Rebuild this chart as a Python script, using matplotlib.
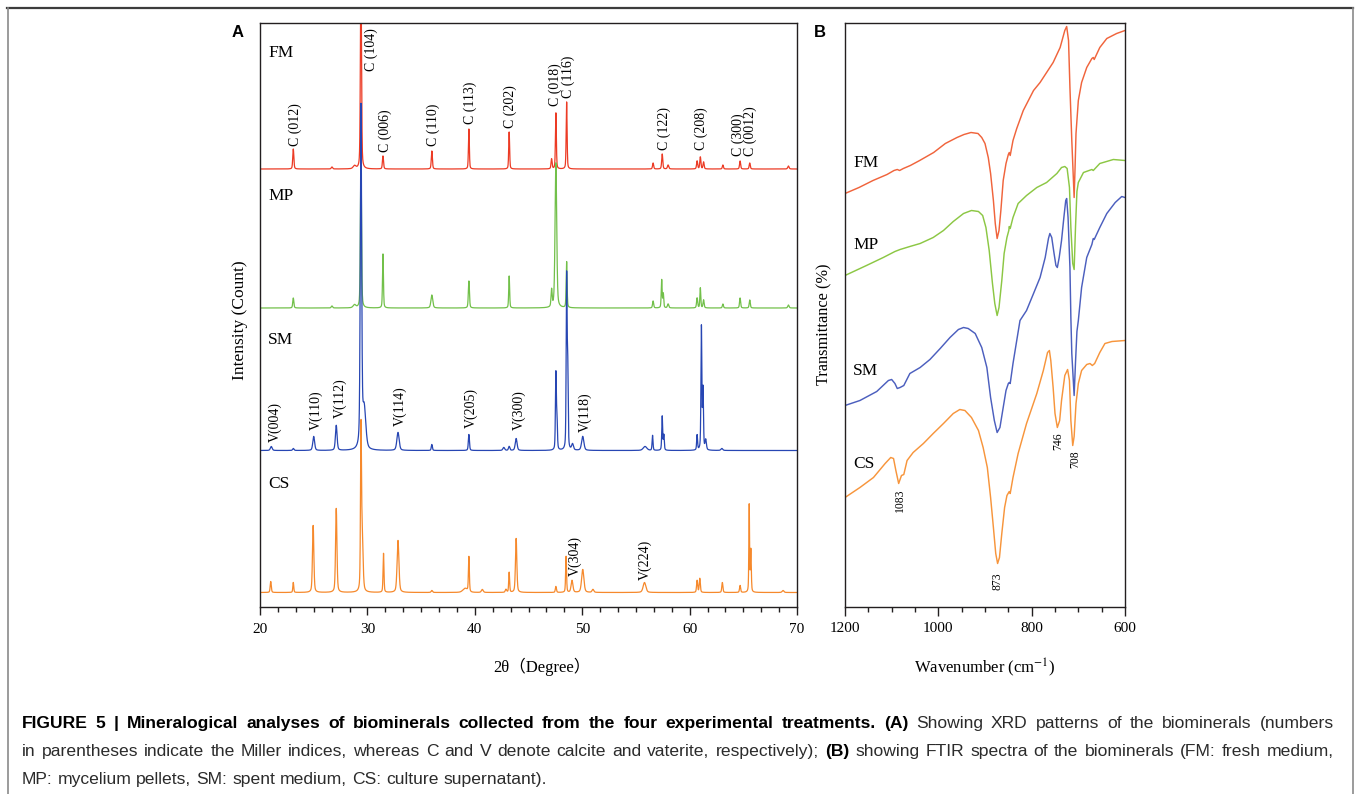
import matplotlib
import matplotlib.pyplot as plt
import numpy as np
from matplotlib.lines import Line2D
from matplotlib.ticker import AutoMinorLocator, MultipleLocator

matplotlib.use("Agg")

W, H = 1358, 794

# ---- XRD (panel A): peak tables (2theta, height, fwhm), baselines in counts
FM_BASE = 437.5
FM_PEAKS = [(23.1, 20, .12), (26.7, 2, .15), (28.8, 3, .3), (29.4, 200, .12),
            (31.45, 13, .12), (36.0, 18, .12), (39.45, 40, .1), (43.2, 37, .1),
            (47.15, 10, .12), (47.55, 56, .1), (48.55, 67, .1), (56.6, 6, .12),
            (57.45, 15, .12), (58.0, 4, .15), (60.7, 8, .12), (61.0, 12, .12),
            (61.3, 7, .12), (63.1, 4, .12), (64.7, 8, .12), (65.6, 6, .12),
            (69.2, 3, .15)]
MP_BASE = 298.5
MP_PEAKS = [(23.1, 10, .12), (26.7, 2, .15), (28.8, 3, .3), (29.4, 151, .12),
            (31.45, 54, .1), (36.0, 13, .2), (39.45, 27, .12), (43.2, 32, .1),
            (47.15, 17, .12), (47.55, 145, .18), (48.55, 46, .1), (56.6, 7, .12),
            (57.4, 28, .1), (57.55, 14, .1), (58.0, 4, .15), (60.7, 10, .12),
            (61.0, 20, .1), (61.3, 8, .12), (63.1, 4, .12), (64.7, 10, .12),
            (65.6, 8, .12), (69.2, 3, .15)]
SM_BASE = 156
SM_PEAKS = [(21.05, 4, .2), (23.1, 2, .15), (25.0, 14, .2), (27.1, 25, .18),
            (29.4, 340, .15), (29.7, 40, .35), (32.85, 18, .25), (36.0, 6, .12),
            (39.45, 16, .12), (42.7, 3, .2), (43.2, 4, .15), (43.85, 12, .2),
            (47.55, 76, .1), (47.65, 30, .1), (48.55, 170, .1), (48.65, 80, .1),
            (49.1, 6, .2), (50.05, 14, .25), (55.85, 4, .4), (56.55, 15, .1),
            (57.45, 34, .1), (57.6, 15, .1), (60.7, 15, .1), (61.1, 123, .1),
            (61.25, 60, .1), (61.5, 10, .15), (63.0, 2, .2)]
CS_BASE = 14
CS_PEAKS = [(21.0, 11, .12), (23.1, 10, .1), (24.95, 67, .15), (27.1, 84, .15),
            (29.4, 143, .1), (29.5, 60, .2), (31.5, 39, .1), (32.85, 52, .2),
            (36.0, 2, .15), (39.1, 4, .5), (39.45, 35, .1), (40.7, 3, .2),
            (42.9, 3, .15), (43.2, 20, .1), (43.85, 54, .15), (47.55, 6, .12),
            (48.5, 36, .1), (49.05, 12, .2), (50.05, 23, .25), (51.0, 3, .2),
            (55.8, 10, .3), (60.7, 12, .12), (60.95, 14, .12), (63.05, 10, .12),
            (64.7, 7, .12), (65.55, 87, .08), (65.7, 42, .1), (68.7, 2, .2)]

FM_LABELS = [("C (012)", 23.29, 461), ("C (104)", 30.4, 536), ("C (006)", 31.63, 455),
             ("C (110)", 36.16, 460), ("C (113)", 39.56, 482), ("C (202)", 43.3, 479),
             ("C (018)", 47.45, 500), ("C (116)", 48.7, 509), ("C (122)", 57.6, 457),
             ("C (208)", 61.1, 457), ("C (300)", 64.54, 451), ("C (0012)", 65.68, 451)]
SM_LABELS = [("V(004)", 21.39, 164), ("V(110)", 25.2, 176), ("V(112)", 27.43, 189),
             ("V(114)", 33.06, 181), ("V(205)", 39.66, 179), ("V(300)", 44.14, 176),
             ("V(118)", 50.27, 174)]
CS_LABELS = [("V(304)", 49.34, 31), ("V(224)", 55.84, 27)]

# ---- FTIR (panel B): wavenumber / transmittance (offset, arbitrary units)
FM_WN = [1200, 1170, 1140, 1110, 1095, 1088, 1083, 1075, 1060, 1052, 1040, 1010,
         985, 960, 945, 930, 915, 907, 900, 893, 888, 882, 878, 874, 870, 866,
         861, 855, 850, 848, 846, 840, 832, 818, 796, 782, 768, 754, 739, 729,
         725, 721, 718, 714, 709, 707, 705, 700, 693, 682, 671, 668, 666, 654,
         639, 618, 600]
FM_T = [413, 419, 426, 432, 436, 437, 436, 438, 441, 443, 446, 454,
        463, 469, 472, 474, 473, 469, 463, 449, 433, 406, 383, 368, 376, 396,
        426, 443, 452, 454, 451, 466, 478, 496, 516, 524, 534, 544, 559, 576,
        580, 566, 519, 466, 409, 439, 473, 506, 524, 539, 548, 549, 547, 559,
        568, 573, 576]
MP_WN = [1200, 1154, 1118, 1093, 1082, 1061, 1039, 1011, 989, 968, 946, 929, 914,
         905, 898, 891, 884, 879, 874, 870, 864, 859, 853, 849, 848, 846, 840,
         829, 811, 789, 768, 746, 736, 729, 724, 719, 716, 712, 709, 706, 703,
         700, 689, 671, 668, 654, 625, 600]
MP_T = [331, 341, 349, 355, 357, 360, 363, 369, 376, 385, 393, 396, 395,
        391, 379, 356, 323, 303, 291, 299, 326, 353, 369, 376, 380, 378, 389,
        403, 411, 419, 424, 433, 439, 440, 438, 419, 379, 343, 337, 380, 415,
        424, 434, 437, 436, 443, 447, 446]
SM_WN = [1200, 1168, 1132, 1107, 1100, 1093, 1088, 1082, 1074, 1061, 1039, 1018,
         996, 975, 957, 946, 936, 921, 907, 896, 888, 880, 874, 868, 861, 855,
         850, 848, 846, 840, 832, 825, 811, 796, 782, 771, 764, 761, 757, 752,
         748, 745, 741, 736, 731, 727, 725, 722, 718, 716, 714, 709, 706, 703,
         700, 693, 682, 671, 668, 666, 654, 639, 621, 607, 600]
SM_T = [201, 206, 215, 226, 227, 223, 218, 219, 221, 233, 239, 247,
        258, 269, 277, 279, 278, 273, 259, 239, 209, 186, 174, 179, 199, 216,
        223, 224, 223, 243, 266, 286, 296, 313, 329, 349, 368, 373, 369, 353,
        341, 339, 349, 366, 389, 406, 408, 389, 339, 289, 253, 211, 245, 275,
        286, 319, 349, 362, 368, 367, 379, 393, 404, 410, 409]
CS_WN = [1200, 1168, 1139, 1114, 1102, 1096, 1091, 1085, 1079, 1074, 1067, 1054,
         1032, 1011, 989, 968, 954, 943, 929, 914, 904, 895, 888, 882, 877, 873,
         869, 864, 858, 853, 848, 846, 840, 829, 811, 789, 775, 766, 762, 759,
         754, 750, 745, 740, 736, 729, 723, 719, 716, 712, 709, 705, 700, 693,
         682, 675, 670, 665, 654, 643, 628, 600]
CS_T = [109, 119, 129, 143, 149, 148, 136, 123, 131, 132, 146, 154,
        163, 173, 183, 193, 197, 196, 189, 176, 159, 139, 109, 79, 53, 43,
        49, 73, 99, 111, 115, 113, 129, 153, 183, 213, 236, 254, 256, 246,
        219, 193, 179, 186, 206, 231, 237, 226, 186, 161, 170, 203, 223, 236,
        242, 243, 241, 243, 254, 263, 265, 266]

FTIR_LABELS = [("1083", 1083, 118), ("873", 873, 34), ("746", 742, 174), ("708", 707, 156)]

SAMPLES = ["FM", "MP", "SM", "CS"]
XRD_COLORS = ["#EC3B25", "#72C04A", "#2746B3", "#F6892C"]
FTIR_COLORS = ["#F0643C", "#8CC744", "#4C5FBE", "#F7953C"]

CAPTION = [
    [("FIGURE 5 | Mineralogical analyses of biominerals collected from the four "
      "experimental treatments.", True), ("(A)", True),
     ("Showing XRD patterns of the biominerals (numbers", False)],
    [("in parentheses indicate the Miller indices, whereas C and V denote calcite "
      "and vaterite, respectively);", False), ("(B)", True),
     ("showing FTIR spectra of the biominerals (FM: fresh medium,", False)],
    [("MP: mycelium pellets, SM: spent medium, CS: culture supernatant).", False)],
]

plt.rcParams["font.family"] = ["Liberation Serif", "Noto Sans CJK SC"]
plt.rcParams["mathtext.fontset"] = "stix"
INK = "#231F20"


def fx(x):
    return x / W


def fy(y):
    return 1 - y / H


def pattern(x, base, peaks):
    y = np.full_like(x, float(base))
    for pos, h, w in peaks:
        g = np.exp(-4 * np.log(2) * ((x - pos) / w) ** 2)
        lor = 1 / (1 + ((x - pos) / (w / 2)) ** 2)
        y += h * (0.6 * g + 0.4 * lor)
    return y


def style_axes(ax, pad):
    for s in ax.spines.values():
        s.set_color(INK)
        s.set_linewidth(1.0)
    ax.set_yticks([])
    ax.tick_params(axis="x", which="major", direction="out", length=5.5, width=1.0,
                   color=INK, labelsize=11, pad=pad, labelcolor="black")
    ax.tick_params(axis="x", which="minor", direction="out", length=3.3, width=1.0,
                   color=INK)


fig = plt.figure(figsize=(W / 100, H / 100), dpi=100)

ax_a = fig.add_axes([fx(260), fy(606.5), (797 - 260) / W, (606.5 - 22.7) / H])
ax_b = fig.add_axes([fx(845), fy(606.5), (1125 - 845) / W, (606.5 - 22.7) / H])

# panel A
two_theta = np.linspace(20, 70, 6001)
bases = [FM_BASE, MP_BASE, SM_BASE, CS_BASE]
peak_sets = [FM_PEAKS, MP_PEAKS, SM_PEAKS, CS_PEAKS]
for base, peaks, color in zip(bases, peak_sets, XRD_COLORS):
    ax_a.plot(two_theta, pattern(two_theta, base, peaks), color=color, lw=0.9)

for labels in (FM_LABELS, SM_LABELS, CS_LABELS):
    for text, x, y in labels:
        ax_a.text(x, y, text, rotation=90, ha="center", va="bottom", fontsize=10)

ax_a.set_xlim(20, 70)
ax_a.set_ylim(0, 583.8)
ax_a.xaxis.set_major_locator(MultipleLocator(10))
ax_a.xaxis.set_minor_locator(AutoMinorLocator(6))
style_axes(ax_a, 6.5)

# panel B
wn_sets = [FM_WN, MP_WN, SM_WN, CS_WN]
t_sets = [FM_T, MP_T, SM_T, CS_T]
for i in [3, 2, 1, 0]:
    ax_b.plot(wn_sets[i], t_sets[i], color=FTIR_COLORS[i], lw=1.05)

for text, x, y in FTIR_LABELS:
    ax_b.text(x, y, text, rotation=90, ha="center", va="top", fontsize=8.4)

ax_b.set_xlim(1200, 600)
ax_b.set_ylim(0, 583.8)
ax_b.xaxis.set_major_locator(MultipleLocator(200))
ax_b.xaxis.set_minor_locator(AutoMinorLocator(4))
style_axes(ax_b, 4.5)
ax_b.tick_params(axis="x", which="major", length=6.5)
ax_b.tick_params(axis="x", which="minor", length=3.8)

# sample names
for name, y in zip(SAMPLES, [57, 200, 344, 488]):
    fig.text(fx(268), fy(y), name, fontsize=12.5, va="baseline", ha="left")
for name, y in zip(SAMPLES, [167, 249, 375, 468]):
    fig.text(fx(853), fy(y), name, fontsize=12.5, va="baseline", ha="left")

# axis titles and panel letters
fig.text(fx(240), fy(320), "Intensity (Count)", rotation=90, ha="center", va="center",
         fontsize=12.5)
fig.text(fx(824), fy(324), "Transmittance (%)", rotation=90, ha="center", va="center",
         fontsize=11.8)
fig.text(fx(493), fy(672), "2θ（Degree）", ha="left", va="baseline", fontsize=12)
fig.text(fx(985), fy(673), "Wavenumber (cm$^{-1}$)", ha="center", va="baseline",
         fontsize=12)
fig.text(fx(238), fy(32.5), "A", ha="center", va="center", fontsize=12,
         fontweight="bold", family="Liberation Sans")
fig.text(fx(820), fy(32.5), "B", ha="center", va="center", fontsize=12,
         fontweight="bold", family="Liberation Sans")

# frame
fig.add_artist(Line2D([fx(7), fx(1353)], [fy(8), fy(8)], color="#3C3C3C", lw=1.6))
fig.add_artist(Line2D([fx(7.5), fx(7.5)], [fy(8), fy(794)], color="#8A8A8A", lw=1.2))
fig.add_artist(Line2D([fx(1352.5), fx(1352.5)], [fy(8), fy(794)], color="#8A8A8A",
                      lw=1.2))

# caption: justified lines with bold runs
renderer = fig.canvas.get_renderer()
CAP_SIZE = 12.6
CAP_LEFT, CAP_RIGHT = 22, 1334


def cap_text(x, y, s, bold):
    return fig.text(fx(x), fy(y), s, fontsize=CAP_SIZE, family="Liberation Sans",
                    fontweight="bold" if bold else "normal", va="baseline",
                    ha="left", color="black" if bold else "#2B2B2B")


def text_width(s, bold):
    t = cap_text(0, 0, s, bold)
    w = t.get_window_extent(renderer).width
    t.remove()
    return w


space_w = text_width("a a", False) - text_width("aa", False)
for n, (line, y) in enumerate(zip(CAPTION, [728, 756, 784])):
    words = [(w, b) for s, b in line for w in s.split(" ")]
    widths = [text_width(w, b) for w, b in words]
    if n < len(CAPTION) - 1:
        gap = (CAP_RIGHT - CAP_LEFT - sum(widths)) / (len(words) - 1)
    else:
        gap = space_w
    x = CAP_LEFT
    for (w, b), wd in zip(words, widths):
        cap_text(x, y, w, b)
        x += wd + gap

fig.savefig("out.png", dpi=100)
